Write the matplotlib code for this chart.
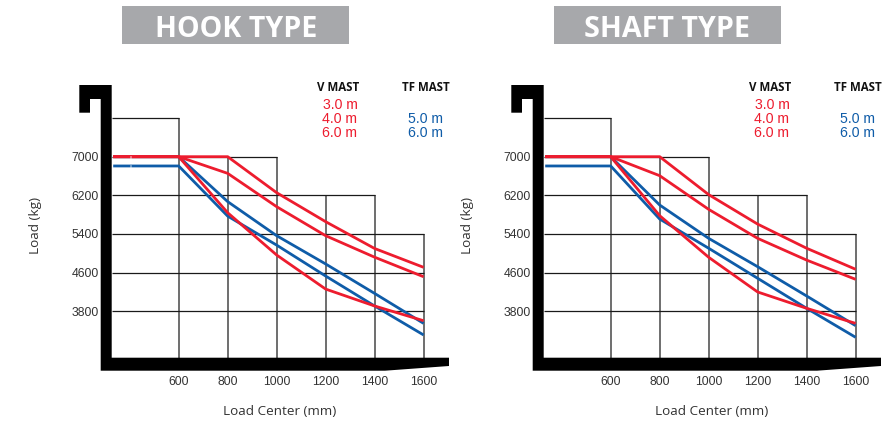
import matplotlib
matplotlib.use("Agg")
import matplotlib.pyplot as plt
from matplotlib.patches import Polygon, Rectangle

W, H = 885, 421
DPI = 100

load_centers = [600, 800, 1000, 1200, 1400, 1600]
y_ticks = [3800, 4600, 5400, 6200, 7000]
x_tick_labels = ["600", "800", "1000", "1200", "1400", "1600"]
y_tick_labels = ["3800", "4600", "5400", "6200", "7000"]

titles = ["HOOK TYPE", "SHAFT TYPE"]

hook_v30 = [7000, 7000, 6255, 5655, 5100, 4710]
hook_v40 = [7000, 6655, 5965, 5365, 4920, 4515]
hook_v60 = [7000, 5840, 4965, 4260, 3910, 3605]
hook_tf50 = [7000, 6070, 5365, 4780, 4170, 3550]
hook_tf60 = [6808, 5770, 5170, 4530, 3910, 3310]

shaft_v30 = [7000, 7000, 6215, 5605, 5105, 4670]
shaft_v40 = [7000, 6607, 5910, 5310, 4860, 4462]
shaft_v60 = [7000, 5779, 4918, 4200, 3862, 3550]
shaft_tf50 = [7000, 6000, 5310, 4723, 4117, 3503]
shaft_tf60 = [6808, 5710, 5105, 4483, 3862, 3262]

RED = "#ed1c2e"
BLUE = "#0f5ca8"
GRID_H = "#1a1a1a"
GRID_V = "#4d4d4d"
TXT = "#333333"

fig = plt.figure(figsize=(W / DPI, H / DPI), dpi=DPI, facecolor="white")

# Pixel-coordinate overlay for the decorative forklift frame and title plates
deco = fig.add_axes([0, 0, 1, 1], zorder=3)
deco.set_xlim(0, W)
deco.set_ylim(H, 0)
deco.axis("off")
deco.patch.set_alpha(0)


def panel(dx, title, tcx, v30, v40, v60, tf50, tf60, gap):
    # pixel anchors of the data scale (x: 600..1600, y: 7000..3800)
    x600, x1600 = 178.7 + dx, 423.6 + dx
    y7000, y3800 = 156.7, 311.3
    left, right = 111.7 + dx, 440 + dx
    top, bottom = 100.0, 357.7
    px_per_x = (x1600 - x600) / 1000
    px_per_y = (y3800 - y7000) / 3200
    xmin = 600 - (x600 - left) / px_per_x
    xmax = 1600 + (right - x1600) / px_per_x
    ymax = 7000 + (y7000 - top) / px_per_y
    ymin = 3800 - (bottom - y3800) / px_per_y

    ax = fig.add_axes([left / W, 1 - bottom / H, (right - left) / W, (bottom - top) / H], zorder=2)
    ax.set_xlim(xmin, xmax)
    ax.set_ylim(ymin, ymax)
    for s in ax.spines.values():
        s.set_visible(False)
    ax.patch.set_alpha(0)

    # stepped grid
    ax.vlines([600], ymin, 7800, color=GRID_V, lw=1.15)
    ax.vlines([800, 1000], ymin, 7000, color=GRID_V, lw=1.15)
    ax.vlines([1200, 1400], ymin, 6200, color=GRID_V, lw=1.15)
    ax.vlines([1600], ymin, 5400, color=GRID_V, lw=1.15)
    ax.hlines(7800, xmin, 600, color=GRID_H, lw=0.9)
    ax.hlines(7000, xmin, 1000, color=GRID_H, lw=0.9)
    ax.hlines(6200, xmin, 1400, color=GRID_H, lw=0.9)
    ax.hlines(5400, xmin, 1600, color=GRID_H, lw=0.9)
    ax.hlines([4600, 3800], xmin, 1600, color=GRID_H, lw=0.9)

    # load curves, each with its flat lead-in from the mast
    start = xmin + 1.5 / px_per_x
    for vals, c in [(tf50, BLUE), (tf60, BLUE), (v60, RED), (v40, RED), (v30, RED)]:
        ax.plot([start] + load_centers, [vals[0]] + vals, color=c, lw=2.0,
                solid_joinstyle="miter", solid_capstyle="butt", zorder=4)
    if gap:
        for vals in (v30, tf60):
            ax.plot([start + 68, start + 72], [vals[0]] * 2, color="white", lw=2.0,
                    solid_capstyle="butt", zorder=5, alpha=0.8)

    ax.set_xticks(load_centers, x_tick_labels, family="Liberation Sans", fontsize=8.8, color=TXT)
    ax.set_yticks(y_ticks, y_tick_labels, family="Liberation Sans", fontsize=8.8, color=TXT)
    ax.tick_params(axis="both", length=0)
    ax.tick_params(axis="x", pad=13.5)
    ax.tick_params(axis="y", pad=9.5)

    # forklift frame
    frame = [(79.3, 85), (111.7, 85), (111.7, 357.7), (449, 357.7), (449, 366), (385, 370.7),
             (100.7, 370.7), (100.7, 99), (90, 99), (90, 112.7), (79.3, 112.7)]
    deco.add_patch(Polygon([(x + dx, y) for x, y in frame], closed=True, fc="black", ec="none"))

    # title plate
    deco.add_patch(Rectangle((122.3 + dx, 6), 227, 37.7, fc="#a7a8ab", ec="none"))
    deco.text(tcx, 25.6, title, color="white", family="Open Sans", weight="bold",
              fontsize=20.6, ha="center", va="center_baseline")

    # legend text
    for cx, label in [(338 + dx, "V MAST"), (425.5 + dx, "TF MAST")]:
        deco.text(cx, 85.7, label, color="#111111", family="Open Sans", weight="bold",
                  fontsize=8.3, ha="center", va="center_baseline", stretch="condensed")
    for y, label in [(103.5, "3.0 m"), (117.5, "4.0 m"), (131.5, "6.0 m")]:
        deco.text(340 + dx, y, label, color=RED, family="Liberation Sans",
                  fontsize=10.2, ha="center", va="center_baseline")
    for y, label in [(117.5, "5.0 m"), (131.5, "6.0 m")]:
        deco.text(425 + dx, y, label, color=BLUE, family="Liberation Sans",
                  fontsize=10.2, ha="center", va="center_baseline")

    # axis titles
    deco.text(280 + dx, 410, "Load Center (mm)", color=TXT, family="Open Sans",
              fontsize=9.7, ha="center", va="center_baseline")
    deco.text(35 + dx, 225.5, "Load (kg)", color=TXT, family="Open Sans",
              fontsize=9.7, ha="center", va="center", rotation=90)


panel(0, titles[0], 236, hook_v30, hook_v40, hook_v60, hook_tf50, hook_tf60, True)
panel(432, titles[1], 667.5, shaft_v30, shaft_v40, shaft_v60, shaft_tf50, shaft_tf60, False)

fig.savefig("out.png", dpi=DPI, facecolor="white")
